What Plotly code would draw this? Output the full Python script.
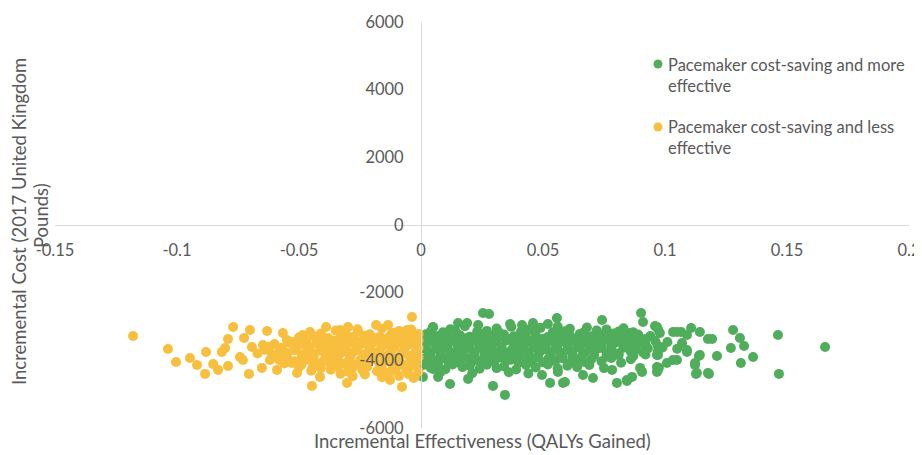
import plotly.graph_objects as go

# ---------------- data ----------------
green_x = [
    # sparse / outer points
    0.1656, 0.1463, 0.1467, 0.1279, 0.1307, 0.1324, 0.1270, 0.1361, 0.1311, 0.1213,
    0.1193, 0.1180, 0.1143, 0.1107, 0.1139, 0.1123, 0.1127, 0.1090, 0.1066, 0.1033,
    0.0902, 0.0910, 0.0959, 0.0971, 0.0967, 0.0967, 0.0975, 0.1008, 0.1049, 0.1070,
    0.0742, 0.0803, 0.0844, 0.0865, 0.0783, 0.0705, 0.0664, 0.0582, 0.0529, 0.0561,
    0.0496, 0.0557, 0.0520, 0.0459, 0.0414, 0.0365, 0.0344, 0.0295, 0.0254, 0.0279,
    0.0193, 0.0119, 0.0070, 0.0049, 0.0008, 0.0049, 0.0152, 0.0189, 0.0234, 0.0828,
    0.0857, 0.0857, 0.0967, 0.0979, 0.1049, 0.1090, 0.0971, 0.0967, 0.0971, 0.0898,
    0.0906, 0.0844, 0.0590, 0.1033, 0.1090, 0.1123, 0.1131, 0.1176, 0.1143, 0.1176,
    0.0857, 0.0885,
    # dense core
    0.005, 0.012, 0.018, 0.031, 0.037, 0.044, 0.049, 0.056, 0.061, 0.068, 0.076, 0.083,
    0.004, 0.009, 0.014, 0.023, 0.027, 0.032, 0.041, 0.046, 0.054, 0.059, 0.067, 0.072,
    0.081, 0.087,
    0.002, 0.007, 0.011, 0.016, 0.020, 0.025, 0.029, 0.034, 0.038, 0.043, 0.047, 0.052,
    0.056, 0.061, 0.065, 0.070, 0.074, 0.079, 0.084, 0.089, 0.094,
    0.001, 0.005, 0.010, 0.014, 0.019, 0.023, 0.028, 0.032, 0.037, 0.041, 0.046, 0.050,
    0.055, 0.059, 0.064, 0.068, 0.073, 0.077, 0.082, 0.087, 0.092,
    0.003, 0.008, 0.012, 0.017, 0.021, 0.026, 0.030, 0.035, 0.039, 0.044, 0.048, 0.053,
    0.057, 0.062, 0.066, 0.071, 0.075, 0.080, 0.085, 0.090, 0.096, 0.101,
    0.002, 0.006, 0.011, 0.015, 0.020, 0.024, 0.029, 0.033, 0.038, 0.042, 0.047, 0.051,
    0.056, 0.060, 0.065, 0.069, 0.074, 0.078, 0.083, 0.087, 0.092, 0.097,
    0.001, 0.006, 0.010, 0.015, 0.019, 0.024, 0.028, 0.033, 0.037, 0.042, 0.046, 0.051,
    0.055, 0.060, 0.064, 0.069, 0.073, 0.078, 0.083, 0.088, 0.093, 0.099, 0.105,
    0.004, 0.008, 0.013, 0.017, 0.022, 0.026, 0.031, 0.035, 0.040, 0.044, 0.049, 0.053,
    0.058, 0.062, 0.067, 0.071, 0.076, 0.081, 0.086, 0.091, 0.097,
    0.003, 0.008, 0.012, 0.017, 0.021, 0.026, 0.030, 0.035, 0.039, 0.044, 0.048, 0.053,
    0.057, 0.062, 0.066, 0.071, 0.076, 0.081, 0.087, 0.092,
    0.001, 0.005, 0.010, 0.014, 0.019, 0.023, 0.028, 0.032, 0.037, 0.042, 0.047, 0.052,
    0.058, 0.064, 0.070, 0.078, 0.086,
    0.002, 0.007, 0.011, 0.016, 0.021, 0.025, 0.030, 0.035, 0.040, 0.045, 0.050, 0.055,
    0.061, 0.067, 0.074, 0.082,
    0.001, 0.006, 0.013, 0.020, 0.027, 0.034, 0.043, 0.052, 0.060, 0.069,
    0.004, 0.010, 0.017, 0.024, 0.031, 0.039, 0.047, 0.056, 0.064, 0.075,
    0.008, 0.021, 0.036, 0.044,
]
green_y = [
    -3604, -3249, -4401, -3102, -3338, -3574, -3634, -3900, -4077, -3870,
    -3368, -4401, -3161, -3043, -3870, -4136, -4401, -3752, -3161, -3161,
    -2600, -2865, -2984, -3072, -3840, -4342, -4220, -4077, -3988, -3486,
    -2806, -4667, -4608, -4490, -4283, -4520, -4431, -4667, -4667, -4342,
    -4431, -2747, -2925, -2895, -2954, -2925, -5022, -4756, -2600, -2629,
    -4549, -4697, -4490, -4254, -4490, -3013, -2895, -2895, -2954, -3190,
    -3190, -3249, -3013, -3190, -3161, -3249, -3840, -4195, -4283, -4224,
    -4342, -4579, -4638, -3988, -3693, -4077, -4372, -4372, -3840, -3368,
    -3693, -3486,
    -3020, -3080, -2990, -3060, -3010, -3090, -3040, -3000, -3070, -3030, -3085, -3050,
    -3140, -3170, -3120, -3160, -3130, -3180, -3150, -3110, -3170, -3140, -3160, -3120,
    -3150, -3170,
    -3230, -3280, -3210, -3260, -3300, -3220, -3270, -3240, -3290, -3200, -3250, -3310,
    -3230, -3270, -3220, -3290, -3250, -3210, -3300, -3240, -3280,
    -3350, -3380, -3330, -3370, -3340, -3390, -3350, -3320, -3370, -3340, -3390, -3360,
    -3330, -3380, -3350, -3370, -3330, -3360, -3390, -3340, -3370,
    -3440, -3480, -3420, -3470, -3430, -3490, -3450, -3410, -3470, -3440, -3500, -3430,
    -3460, -3420, -3480, -3450, -3410, -3470, -3440, -3490, -3430, -3460,
    -3560, -3530, -3580, -3540, -3570, -3520, -3560, -3590, -3540, -3570, -3530, -3560,
    -3580, -3540, -3570, -3520, -3560, -3590, -3540, -3570, -3530, -3560,
    -3640, -3670, -3630, -3690, -3650, -3620, -3680, -3640, -3700, -3660, -3630, -3670,
    -3650, -3690, -3620, -3660, -3640, -3680, -3630, -3670, -3650, -3620, -3660,
    -3760, -3730, -3780, -3740, -3770, -3720, -3760, -3790, -3740, -3770, -3730, -3760,
    -3780, -3740, -3770, -3720, -3760, -3790, -3740, -3770, -3750,
    -3850, -3880, -3830, -3870, -3900, -3840, -3880, -3860, -3820, -3890, -3850, -3870,
    -3830, -3880, -3860, -3840, -3890, -3850, -3870, -3830,
    -3950, -3980, -3930, -3970, -3940, -3990, -3950, -3920, -3980, -3950, -3930, -3970,
    -3940, -3990, -3950, -3930, -3970,
    -4040, -4080, -4020, -4070, -4030, -4090, -4050, -4010, -4070, -4040, -4060, -4020,
    -4080, -4050, -4030, -4070,
    -4140, -4170, -4120, -4160, -4130, -4180, -4140, -4120, -4160, -4140,
    -4220, -4260, -4200, -4250, -4230, -4270, -4210, -4240, -4200, -4230,
    -4340, -4380, -4350, -4390,
]

yellow_x = [
    # sparse / outer points
    -0.1180, -0.1037, -0.1004, -0.0947, -0.0881, -0.0918, -0.0885, -0.0852, -0.0832, -0.0791,
    -0.0816, -0.0803, -0.0791, -0.0770, -0.0725, -0.0701, -0.0742, -0.0705, -0.0730, -0.0693,
    -0.0648, -0.0631, -0.0652, -0.0619, -0.0590, -0.0566, -0.0570, -0.0525, -0.0529, -0.0508,
    -0.0484, -0.0455, -0.0467, -0.0443, -0.0447, -0.0414, -0.0389, -0.0385, -0.0414, -0.0361,
    -0.0332, -0.0299, -0.0303, -0.0332, -0.0279, -0.0258, -0.0238, -0.0221, -0.0184, -0.0168,
    -0.0135, -0.0115, -0.0127, -0.0078, -0.0037, -0.0057, -0.0016, -0.0025,
    # dense core
    -0.035, -0.026, -0.016, -0.009, -0.004,
    -0.041, -0.031, -0.021, -0.012, -0.006, -0.001,
    -0.050, -0.044, -0.038, -0.033, -0.028, -0.023, -0.018, -0.013, -0.008, -0.003,
    -0.055, -0.047, -0.041, -0.036, -0.031, -0.026, -0.021, -0.016, -0.011, -0.006, -0.001,
    -0.060, -0.054, -0.048, -0.043, -0.038, -0.033, -0.028, -0.024, -0.019, -0.014, -0.009, -0.004,
    -0.062, -0.057, -0.051, -0.046, -0.041, -0.036, -0.031, -0.026, -0.021, -0.016, -0.011, -0.006, -0.001,
    -0.064, -0.058, -0.052, -0.046, -0.041, -0.036, -0.031, -0.026, -0.021, -0.017, -0.012, -0.007, -0.002,
    -0.067, -0.061, -0.055, -0.049, -0.044, -0.038, -0.033, -0.028, -0.023, -0.018, -0.013, -0.008, -0.003,
    -0.061, -0.055, -0.049, -0.044, -0.039, -0.034, -0.029, -0.024, -0.019, -0.015, -0.010, -0.005, -0.001,
    -0.058, -0.052, -0.046, -0.040, -0.035, -0.030, -0.025, -0.020, -0.014, -0.009, -0.004,
    -0.056, -0.049, -0.043, -0.037, -0.032, -0.027, -0.022, -0.017, -0.012, -0.007, -0.002,
    -0.050, -0.041, -0.034, -0.028, -0.022, -0.016, -0.010, -0.004,
    -0.045, -0.037, -0.030, -0.024, -0.018, -0.012, -0.006, -0.001,
    -0.033, -0.023, -0.013, -0.005,
    -0.028, -0.016, -0.009, -0.003,
]
yellow_y = [
    -3279, -3663, -4047, -3929, -3752, -4136, -4401, -4106, -4283, -4165,
    -3752, -3634, -3368, -3013, -3338, -3102, -3900, -4401, -3988, -3604,
    -3545, -3131, -4224, -3988, -4283, -3190, -3693, -3456, -4077, -4372,
    -3249, -3161, -3781, -4195, -4756, -3308, -3013, -3693, -4490, -4047,
    -3102, -3013, -4667, -3604, -3397, -3161, -4195, -3486, -2954, -3308,
    -2954, -3190, -4579, -4785, -2718, -3102, -3693, -4490,
    -3120, -3080, -3060, -3130, -3090,
    -3210, -3190, -3230, -3200, -3180, -3220,
    -3320, -3280, -3340, -3290, -3310, -3270, -3330, -3300, -3260, -3320,
    -3400, -3430, -3380, -3420, -3390, -3440, -3400, -3370, -3420, -3390, -3410,
    -3520, -3480, -3540, -3500, -3470, -3530, -3490, -3510, -3460, -3520, -3480, -3500,
    -3600, -3630, -3580, -3620, -3590, -3640, -3600, -3570, -3620, -3590, -3610, -3580, -3630,
    -3690, -3730, -3700, -3670, -3720, -3680, -3740, -3700, -3660, -3720, -3690, -3710, -3680,
    -3800, -3830, -3780, -3820, -3790, -3840, -3800, -3770, -3820, -3790, -3810, -3780, -3830,
    -3910, -3880, -3930, -3890, -3920, -3870, -3910, -3940, -3880, -3900, -3930, -3870, -3910,
    -4000, -4030, -3980, -4020, -3990, -4040, -4000, -3970, -4020, -3990, -4010,
    -4090, -4130, -4080, -4120, -4100, -4140, -4090, -4110, -4070, -4130, -4100,
    -4200, -4230, -4180, -4220, -4190, -4240, -4200, -4170,
    -4310, -4280, -4330, -4290, -4320, -4300, -4270, -4330,
    -4400, -4420, -4380, -4410,
    -4470, -4500, -4460, -4520,
]

series_names = [
    "Pacemaker cost-saving and more<br>effective",
    "Pacemaker cost-saving and less<br>effective",
]
x_tickvals = [-0.15, -0.1, -0.05, 0, 0.05, 0.1, 0.15, 0.2]
x_ticktext = ["-0.15", "-0.1", "-0.05", "0", "0.05", "0.1", "0.15", "0.2"]
y_tickvals = [-6000, -4000, -2000, 0, 2000, 4000, 6000]
y_ticktext = ["-6000", "-4000", "-2000", "0", "2000", "4000", "6000"]
x_title = "Incremental Effectiveness (QALYs Gained)"
y_title_lines = ["Incremental Cost (2017 United Kingdom", "Pounds)"]

# ---------------- styling ----------------
GREEN = "#4FAD5B"
YELLOW = "#F8BF3F"
TEXT = "#595959"
FONT = "Lato"
FS = 16.5
FS_TITLE = 18.5
MSIZE = 10
PAGE_OFF = 8                       # default body margin of the html page
W, H = 922 - PAGE_OFF, 455 - PAGE_OFF
# plot area in page pixels: x 55..909, y 22..428
P_L, P_R, P_T, P_B = 55, 909, 22, 428
ML = P_L - PAGE_OFF
MT = P_T - PAGE_OFF
MR = W - (P_R - PAGE_OFF)
MB = H - (P_B - PAGE_OFF)


def px_x(p):
    return (p - P_L) / (P_R - P_L)


def px_y(p):
    return (P_B - p) / (P_B - P_T)


fig = go.Figure()
fig.add_trace(go.Scatter(x=green_x, y=green_y, mode="markers", name=series_names[0],
                         marker=dict(color=GREEN, size=MSIZE), showlegend=False))
fig.add_trace(go.Scatter(x=yellow_x, y=yellow_y, mode="markers", name=series_names[1],
                         marker=dict(color=YELLOW, size=MSIZE), showlegend=False))

fig.update_layout(
    width=W, height=H,
    margin=dict(l=ML, r=MR, t=MT, b=MB, autoexpand=False),
    paper_bgcolor="white", plot_bgcolor="white",
    font=dict(family=FONT, size=FS, color=TEXT),
    showlegend=False,
    xaxis=dict(range=[-0.15, 0.2], tickvals=x_tickvals, ticktext=x_ticktext,
               anchor="free", position=0.5, showline=True, linecolor="#D9D9D9",
               linewidth=1, showgrid=False, zeroline=False, ticks="",
               ticklabelstandoff=10, ticklabeloverflow="allow"),
    yaxis=dict(range=[-6000, 6000], tickvals=y_tickvals, ticktext=y_ticktext,
               anchor="free", position=0.15 / 0.35, showline=True, linecolor="#D9D9D9",
               linewidth=1, showgrid=False, zeroline=False, ticks="",
               ticklabelstandoff=14, ticklabeloverflow="allow"),
)

annotations = [
    dict(text=x_title, xref="paper", yref="paper", x=0.5, y=px_y(441),
         xanchor="center", yanchor="middle", showarrow=False,
         font=dict(size=FS_TITLE)),
    dict(text=y_title_lines[0], xref="paper", yref="paper", x=px_x(19), y=px_y(222),
         xanchor="center", yanchor="middle", textangle=-90, showarrow=False,
         font=dict(size=FS_TITLE)),
    dict(text=y_title_lines[1], xref="paper", yref="paper", x=px_x(41), y=px_y(216),
         xanchor="center", yanchor="middle", textangle=-90, showarrow=False,
         font=dict(size=FS_TITLE)),
    dict(text=series_names[0], xref="paper", yref="paper", x=px_x(666), y=px_y(75),
         xanchor="left", yanchor="middle", align="left", showarrow=False),
    dict(text=series_names[1], xref="paper", yref="paper", x=px_x(666), y=px_y(137.5),
         xanchor="left", yanchor="middle", align="left", showarrow=False),
]
fig.update_layout(annotations=annotations)

shapes = []
for cy, col in [(64, GREEN), (127, YELLOW)]:
    shapes.append(dict(type="circle", xref="paper", yref="paper",
                       xsizemode="pixel", ysizemode="pixel",
                       xanchor=px_x(658), yanchor=px_y(cy),
                       x0=-4.5, x1=4.5, y0=-4.5, y1=4.5,
                       fillcolor=col, line=dict(width=0)))
fig.update_layout(shapes=shapes)

fig.write_html("out.html")
